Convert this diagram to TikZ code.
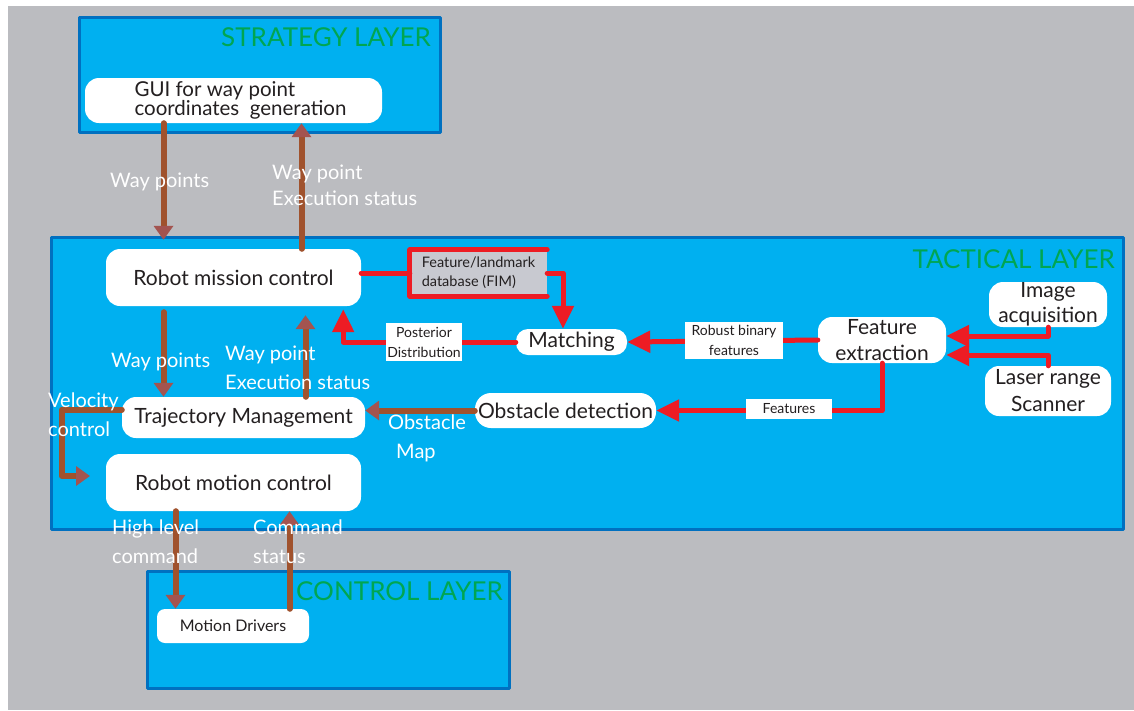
\documentclass[tikz,border=0pt]{standalone}
\usepackage{fontspec}
\setmainfont{Lato}
\usetikzlibrary{arrows.meta}

\definecolor{canvas}{RGB}{187,188,192}
\definecolor{layerfill}{RGB}{0,176,240}
\definecolor{layeredge}{RGB}{0,112,192}
\definecolor{layertitle}{RGB}{0,166,81}
\definecolor{ink}{RGB}{35,31,32}
\definecolor{flowbrown}{RGB}{160,82,45}
\definecolor{tipbrown}{RGB}{163,84,80}
\definecolor{flowred}{RGB}{237,28,36}
\definecolor{dbgray}{RGB}{200,201,208}

% two lines set close together
\newcommand\tightfont{\fontsize{20.5}{19}\selectfont\lineskiplimit=-30pt\relax}

\tikzset{
  layer/.style={fill=layerfill, draw=layeredge, line width=3pt},
  layername/.style={text=layertitle, font=\fontsize{26}{26}\selectfont, anchor=east, inner sep=0pt},
  block/.style={fill=white, rounded corners=14pt, text=ink, align=center, inner sep=0pt,
    font=\fontsize{21}{25}\selectfont},
  tag/.style={fill=white, text=ink, align=center, inner sep=0pt, font=\fontsize{14}{20}\selectfont},
  note/.style={text=white, align=left, anchor=west, inner sep=0pt, font=\fontsize{20}{29}\selectfont},
  brownflow/.style={color=flowbrown, line width=6pt, -{Triangle[length=14pt,width=19pt,color=tipbrown]}},
  redline/.style={color=flowred, line width=5pt},
  redflow/.style={redline, -{Triangle[length=23pt,width=21pt]}},
}

\begin{document}
\begin{tikzpicture}[x=1pt, y=-1pt, line cap=round, line join=round]
  \useasboundingbox (0,0) rectangle (1134,710);
  \fill[canvas] (8,6) rectangle (1134,710);

  % the three layers
  \draw[layer] (79,17) rectangle (440,132);
  \draw[layer] (51,237) rectangle (1123,529);
  \draw[layer] (147,571) rectangle (509,688);
  \node[layername] (strategy) at (431,37) {STRATEGY LAYER};
  \node[layername] (tactical) at (1115,259) {TACTICAL LAYER};
  \node[layername] (control) at (503,591) {CONTROL LAYER};

  % blocks
  \node[block, align=left, minimum width=297pt, minimum height=45pt, font=\tightfont] (gui) at (233.5,100.5)
    {\hspace*{14pt}GUI for way point\\\hspace*{14pt}coordinates\ \ generation};
  \node[block, minimum width=255pt, minimum height=57pt] (mission) at (233.5,277.5) {Robot mission control};
  \node[block, minimum width=243pt, minimum height=41pt] (traj) at (243.5,417.5) {Trajectory Management};
  \node[block, minimum width=255pt, minimum height=57pt] (motion) at (233.5,482.5) {Robot motion control};
  \node[block, fill=dbgray, rounded corners=0pt, align=left, minimum width=137pt, minimum height=46pt,
    font=\fontsize{14.5}{19}\selectfont] (db) at (478.5,273) {Feature/landmark\\database (FIM)};
  \node[block, rounded corners=12pt, minimum width=111pt, minimum height=26pt] (matching) at (571.5,342) {Matching};
  \node[block, rounded corners=16pt, minimum width=181pt, minimum height=35pt] (obst) at (565.5,410.5) {Obstacle detection};
  \node[block, font=\fontsize{21}{26}\selectfont, minimum width=128pt, minimum height=46pt] (feat) at (882,340) {Feature\\extraction};
  \node[block, minimum width=118pt, minimum height=45pt] (img) at (1048,304.5) {Image\\acquisition};
  \node[block, font=\fontsize{21}{27}\selectfont, minimum width=126pt, minimum height=50pt] (laser) at (1048,391) {Laser range\\Scanner};
  \node[block, rounded corners=8pt, font=\fontsize{16}{18}\selectfont, minimum width=152pt, minimum height=34pt] (drivers) at (233,626) {Motion Drivers};

  % brown links between the layers
  \draw[brownflow, shorten >=9pt] ([xshift=-70pt]gui.south) -- ([xshift=-70pt]mission.north);
  \draw[brownflow] ([xshift=68pt]mission.north) -- ([xshift=68pt]gui.south);
  \draw[brownflow, shorten <=6pt] ([xshift=-70pt]mission.south) -- ([xshift=-70pt]mission.south |- traj.north);
  \draw[brownflow, shorten >=9pt] ([xshift=72pt]mission.south |- traj.north) -- ([xshift=72pt]mission.south);
  \draw[brownflow] (obst.west) -- (obst.west -| traj.east);
  \coordinate (velend) at (90,476);
  \draw[brownflow] ([yshift=8pt]traj.west) -- ++(-60,0) |- (velend);
  \draw[brownflow] ([xshift=-58pt]motion.south) -- ([xshift=-58pt]motion.south |- drivers.north);
  \draw[brownflow] ([xshift=56pt]motion.south |- drivers.north) -- ([xshift=56pt]motion.south);

  % red feature path
  \draw[redline] (db.west -| mission.east) -- (db.west);
  \draw[redline] (db.north east) -- (db.north west) -- (db.south west) -- (db.south east);
  \draw[redflow] (db.east) -| ([xshift=-8.5pt]matching.north);
  \draw[redflow] (matching.west) -| ([xshift=-18pt, yshift=-3pt]mission.south east);
  \draw[redflow] (feat.west) -- (matching.east);
  \draw[redflow] (feat.south) |- (obst.east);
  \draw[redflow] (img.south) |- ([yshift=4pt]feat.east);
  \draw[redflow] (laser.north) |- ([yshift=-15pt]feat.east);

  \node[tag, minimum width=76pt, minimum height=38pt] (posterior) at (424,342) {Posterior\\Distribution};
  \node[tag, minimum width=98pt, minimum height=37pt] (robust) at (734,340.5) {Robust binary\\features};
  \node[tag, minimum width=86pt, minimum height=20pt] (features) at (789,409) {Features};

  % white captions
  \node[note] (wp1) at (110,182) {Way points};
  \node[note, font=\fontsize{20}{26}\selectfont] (st1) at (272,185) {Way point\\Execution status};
  \node[note] (wp2) at (111,362) {Way points};
  \node[note] (st2) at (225,367.5) {Way point\\Execution status};
  \node[note] (velo) at (48,414.5) {Velocity\\control};
  \node[note] (obmap) at (388,438) {Obstacle\\\hspace*{8pt}Map};
  \node[note] (hlc) at (112,542) {High level\\command};
  \node[note] (cmdst) at (253,542) {Command\\status};
\end{tikzpicture}
\end{document}
